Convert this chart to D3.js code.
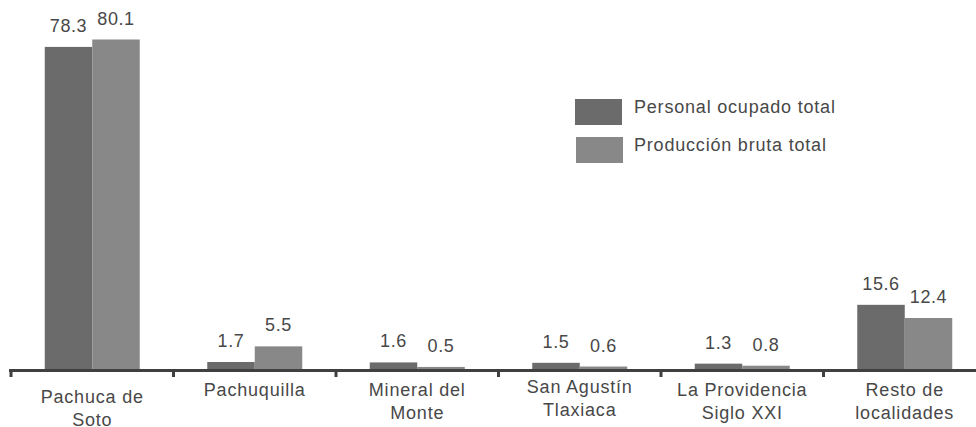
<!DOCTYPE html>
<html><head><meta charset="utf-8">
<script src="https://cdn.jsdelivr.net/npm/d3@7"></script>
<style>body{margin:0;background:#fff}svg{display:block}text{font-family:"Liberation Sans",Arial,sans-serif;fill:#484848}</style>
</head><body><svg id="c" width="976" height="427"></svg>
<script>
const categories = [["Pachuca de","Soto"],["Pachuquilla"],["Mineral del","Monte"],["San Agustín","Tlaxiaca"],["La Providencia","Siglo XXI"],["Resto de","localidades"]];
const seriesNames = ["Personal ocupado total","Producción bruta total"];
const personal = [78.3,1.7,1.6,1.5,1.3,15.6];
const produccion = [80.1,5.5,0.5,0.6,0.8,12.4];
const colors = ["#6b6b6b","#888888"];

const svg = d3.select("#c");
const base = 369;
const x = d3.scaleBand().domain(d3.range(categories.length)).range([11,986]).paddingInner(0).paddingOuter(0);
const y = d3.scaleLinear().domain([0,80.1]).range([base,39.5]);
const inner = d3.scaleBand().domain([0,1]).range([0,95]);
const offset = (x.bandwidth()-95)/2;
const series = [personal, produccion];

series.forEach((vals,si)=>{
  svg.append("g").selectAll("rect").data(vals).join("rect")
    .attr("x",(d,i)=>x(i)+offset+inner(si))
    .attr("width",inner.bandwidth())
    .attr("y",d=>y(d))
    .attr("height",d=>base-y(d))
    .attr("fill",colors[si]);
  svg.append("g").selectAll("text").data(vals).join("text")
    .attr("x",(d,i)=>x(i)+offset+inner(si)+inner.bandwidth()/2)
    .attr("y",d=>y(d)-15)
    .attr("text-anchor","middle")
    .attr("font-size",18).attr("letter-spacing",0.6)
    .text(d=>d.toFixed(1));
});

// axis
const axis = svg.append("g");
axis.append("line").attr("x1",9).attr("x2",976).attr("y1",base+1.5).attr("y2",base+1.5)
  .attr("stroke","#404040").attr("stroke-width",3);
const ticks = d3.range(categories.length+1).map(i=> i<categories.length ? x(i) : x(i-1)+x.bandwidth());
axis.selectAll("line.t").data(ticks).join("line").attr("class","t")
  .attr("x1",d=>d).attr("x2",d=>d).attr("y1",base).attr("y2",base+8)
  .attr("stroke","#404040").attr("stroke-width",3);

categories.forEach((lines,i)=>{
  const y0 = i===0 ? 403 : (i===3 ? 393 : 396);
  const t = svg.append("text").attr("text-anchor","middle").attr("font-size",18).attr("letter-spacing",0.8);
  lines.forEach((l,j)=>{
    t.append("tspan").attr("x",x(i)+x.bandwidth()/2).attr("y",y0+j*22.5).text(l);
  });
});

// legend
const lg = svg.append("g");
seriesNames.forEach((n,i)=>{
  lg.append("rect").attr("x",575+i).attr("y",99+i*38).attr("width",47).attr("height",26).attr("fill",colors[i]);
  lg.append("text").attr("x",634).attr("y",113+i*38).attr("font-size",18).attr("letter-spacing",0.8).text(n);
});
</script></body></html>
